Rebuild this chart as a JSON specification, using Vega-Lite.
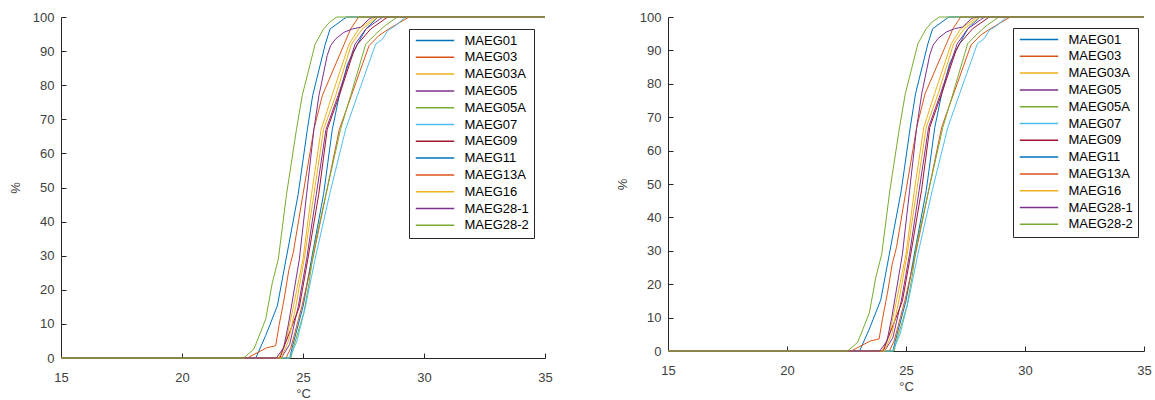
{
 "$schema": "https://vega.github.io/schema/vega-lite/v6.json",
 "padding": {"left": 9, "top": 11, "right": 5, "bottom": 0},
 "background": "white",
 "config": {
  "view": {"stroke": null},
  "font": "Liberation Sans",
  "concat": {"spacing": 63},
  "axis": {"domainColor": "#262626", "tickColor": "#262626", "tickSize": -5, "labelColor": "#404040", "labelFontSize": 13, "titleFontSize": 13, "titleFontWeight": "normal", "titleColor": "#404040", "grid": false, "labelFlush": false, "labelOverlap": false, "titlePadding": 10},
  "axisX": {"labelPadding": 18, "titlePadding": 3},
  "axisY": {"labelPadding": 12},
  "legend": {"strokeColor": "#262626", "fillColor": "white", "padding": 5, "symbolType": "M-4.8,0H4.8", "symbolSize": 64, "symbolOffset": 14.5, "symbolStrokeWidth": 1.5, "labelFontSize": 13, "labelColor": "#000000", "rowPadding": 2.8, "labelOffset": 23}
 },
 "datasets": {"curves": [
  {"s":"MAEG01","t":15,"p":0},{"s":"MAEG01","t":24.45,"p":0},{"s":"MAEG01","t":24.55,"p":3},{"s":"MAEG01","t":25.0,"p":15},{"s":"MAEG01","t":25.35,"p":29},{"s":"MAEG01","t":25.85,"p":48},{"s":"MAEG01","t":26.21,"p":67},{"s":"MAEG01","t":26.5,"p":77},{"s":"MAEG01","t":26.83,"p":86},{"s":"MAEG01","t":27.25,"p":92},{"s":"MAEG01","t":27.6,"p":96.5},{"s":"MAEG01","t":28.1,"p":100},{"s":"MAEG01","t":35,"p":100},
  {"s":"MAEG03","t":15,"p":0},{"s":"MAEG03","t":24.3,"p":0},{"s":"MAEG03","t":24.5,"p":3},{"s":"MAEG03","t":24.95,"p":15},{"s":"MAEG03","t":25.4,"p":29},{"s":"MAEG03","t":25.95,"p":48},{"s":"MAEG03","t":26.5,"p":67},{"s":"MAEG03","t":27.0,"p":77},{"s":"MAEG03","t":27.73,"p":91.6},{"s":"MAEG03","t":28.14,"p":94.6},{"s":"MAEG03","t":28.55,"p":96.5},{"s":"MAEG03","t":29.38,"p":100},{"s":"MAEG03","t":35,"p":100},
  {"s":"MAEG03A","t":15,"p":0},{"s":"MAEG03A","t":24.0,"p":0},{"s":"MAEG03A","t":24.3,"p":5},{"s":"MAEG03A","t":24.6,"p":15},{"s":"MAEG03A","t":25.0,"p":29},{"s":"MAEG03A","t":25.35,"p":48},{"s":"MAEG03A","t":25.75,"p":67},{"s":"MAEG03A","t":26.2,"p":77},{"s":"MAEG03A","t":26.9,"p":92},{"s":"MAEG03A","t":27.3,"p":96.5},{"s":"MAEG03A","t":28.0,"p":100},{"s":"MAEG03A","t":35,"p":100},
  {"s":"MAEG05","t":15,"p":0},{"s":"MAEG05","t":24.1,"p":0},{"s":"MAEG05","t":24.45,"p":4},{"s":"MAEG05","t":24.8,"p":15},{"s":"MAEG05","t":25.15,"p":29},{"s":"MAEG05","t":25.55,"p":48},{"s":"MAEG05","t":25.95,"p":67},{"s":"MAEG05","t":26.45,"p":77},{"s":"MAEG05","t":27.15,"p":92},{"s":"MAEG05","t":27.6,"p":96.5},{"s":"MAEG05","t":28.3,"p":100},{"s":"MAEG05","t":35,"p":100},
  {"s":"MAEG05A","t":15,"p":0},{"s":"MAEG05A","t":24.5,"p":0},{"s":"MAEG05A","t":24.6,"p":3},{"s":"MAEG05A","t":25.04,"p":13.4},{"s":"MAEG05A","t":25.25,"p":22},{"s":"MAEG05A","t":25.45,"p":32},{"s":"MAEG05A","t":25.95,"p":48},{"s":"MAEG05A","t":26.55,"p":67},{"s":"MAEG05A","t":26.97,"p":77},{"s":"MAEG05A","t":27.59,"p":92},{"s":"MAEG05A","t":28.0,"p":95},{"s":"MAEG05A","t":28.4,"p":97.5},{"s":"MAEG05A","t":28.9,"p":100},{"s":"MAEG05A","t":35,"p":100},
  {"s":"MAEG07","t":15,"p":0},{"s":"MAEG07","t":24.45,"p":0},{"s":"MAEG07","t":24.75,"p":5},{"s":"MAEG07","t":25.1,"p":15},{"s":"MAEG07","t":25.5,"p":29},{"s":"MAEG07","t":26.1,"p":48},{"s":"MAEG07","t":26.76,"p":67},{"s":"MAEG07","t":27.25,"p":77},{"s":"MAEG07","t":28.0,"p":92},{"s":"MAEG07","t":28.28,"p":93.5},{"s":"MAEG07","t":28.5,"p":96},{"s":"MAEG07","t":28.83,"p":97.5},{"s":"MAEG07","t":29.24,"p":100},{"s":"MAEG07","t":35,"p":100},
  {"s":"MAEG09","t":15,"p":0},{"s":"MAEG09","t":24.05,"p":0},{"s":"MAEG09","t":24.2,"p":3},{"s":"MAEG09","t":24.85,"p":15},{"s":"MAEG09","t":25.2,"p":29},{"s":"MAEG09","t":25.65,"p":48},{"s":"MAEG09","t":26.0,"p":67},{"s":"MAEG09","t":26.5,"p":77},{"s":"MAEG09","t":27.1,"p":90},{"s":"MAEG09","t":27.25,"p":92},{"s":"MAEG09","t":27.8,"p":96.5},{"s":"MAEG09","t":28.5,"p":100},{"s":"MAEG09","t":35,"p":100},
  {"s":"MAEG11","t":15,"p":0},{"s":"MAEG11","t":23.05,"p":0},{"s":"MAEG11","t":23.46,"p":6.6},{"s":"MAEG11","t":23.94,"p":15.3},{"s":"MAEG11","t":24.3,"p":29},{"s":"MAEG11","t":24.8,"p":48},{"s":"MAEG11","t":25.18,"p":67},{"s":"MAEG11","t":25.4,"p":77},{"s":"MAEG11","t":25.92,"p":92},{"s":"MAEG11","t":26.12,"p":96.5},{"s":"MAEG11","t":26.8,"p":100},{"s":"MAEG11","t":35,"p":100},
  {"s":"MAEG13A","t":15,"p":0},{"s":"MAEG13A","t":22.7,"p":0},{"s":"MAEG13A","t":23.5,"p":3},{"s":"MAEG13A","t":23.87,"p":3.6},{"s":"MAEG13A","t":24.01,"p":9.5},{"s":"MAEG13A","t":24.22,"p":17.3},{"s":"MAEG13A","t":24.42,"p":26},{"s":"MAEG13A","t":24.6,"p":31},{"s":"MAEG13A","t":25.0,"p":48},{"s":"MAEG13A","t":25.45,"p":67},{"s":"MAEG13A","t":25.8,"p":77},{"s":"MAEG13A","t":26.7,"p":92},{"s":"MAEG13A","t":26.97,"p":96.5},{"s":"MAEG13A","t":27.3,"p":100},{"s":"MAEG13A","t":35,"p":100},
  {"s":"MAEG16","t":15,"p":0},{"s":"MAEG16","t":24.1,"p":0},{"s":"MAEG16","t":24.4,"p":5},{"s":"MAEG16","t":24.7,"p":15},{"s":"MAEG16","t":25.05,"p":29},{"s":"MAEG16","t":25.45,"p":48},{"s":"MAEG16","t":25.85,"p":67},{"s":"MAEG16","t":26.35,"p":77},{"s":"MAEG16","t":27.0,"p":92},{"s":"MAEG16","t":27.45,"p":96.5},{"s":"MAEG16","t":28.1,"p":100},{"s":"MAEG16","t":35,"p":100},
  {"s":"MAEG28-1","t":15,"p":0},{"s":"MAEG28-1","t":23.9,"p":0},{"s":"MAEG28-1","t":24.2,"p":3},{"s":"MAEG28-1","t":24.4,"p":10},{"s":"MAEG28-1","t":24.85,"p":29},{"s":"MAEG28-1","t":25.15,"p":48},{"s":"MAEG28-1","t":25.45,"p":67},{"s":"MAEG28-1","t":25.66,"p":77},{"s":"MAEG28-1","t":26.0,"p":88.7},{"s":"MAEG28-1","t":26.14,"p":91.6},{"s":"MAEG28-1","t":26.35,"p":93.6},{"s":"MAEG28-1","t":26.69,"p":95.5},{"s":"MAEG28-1","t":27.04,"p":96.5},{"s":"MAEG28-1","t":27.38,"p":97},{"s":"MAEG28-1","t":27.73,"p":99.4},{"s":"MAEG28-1","t":27.9,"p":100},{"s":"MAEG28-1","t":35,"p":100},
  {"s":"MAEG28-2","t":15,"p":0},{"s":"MAEG28-2","t":22.55,"p":0},{"s":"MAEG28-2","t":22.97,"p":2.6},{"s":"MAEG28-2","t":23.46,"p":11.4},{"s":"MAEG28-2","t":23.73,"p":22},{"s":"MAEG28-2","t":23.98,"p":29},{"s":"MAEG28-2","t":24.32,"p":48},{"s":"MAEG28-2","t":24.73,"p":67},{"s":"MAEG28-2","t":24.97,"p":77},{"s":"MAEG28-2","t":25.5,"p":92},{"s":"MAEG28-2","t":25.85,"p":96.5},{"s":"MAEG28-2","t":26.1,"p":98.5},{"s":"MAEG28-2","t":26.4,"p":100},{"s":"MAEG28-2","t":35,"p":100}
 ]},
 "hconcat": [
  {
   "width": 484, "height": 341,
   "data": {"name": "curves"},
   "mark": {"type": "line", "strokeWidth": 1},
   "encoding": {
    "x": {"field": "t", "type": "quantitative", "scale": {"domain": [15, 35], "nice": false, "zero": false}, "axis": {"title": "°C", "values": [15, 20, 25, 30, 35]}},
    "y": {"field": "p", "type": "quantitative", "scale": {"domain": [0, 100], "nice": false}, "axis": {"title": "%", "values": [0, 10, 20, 30, 40, 50, 60, 70, 80, 90, 100]}},
    "color": {"field": "s", "type": "nominal",
     "scale": {"domain": ["MAEG01","MAEG03","MAEG03A","MAEG05","MAEG05A","MAEG07","MAEG09","MAEG11","MAEG13A","MAEG16","MAEG28-1","MAEG28-2"],
               "range": ["#0072BD","#D95319","#EDB120","#7E2F8E","#77AC30","#4DBEEE","#A2142F","#0072BD","#D95319","#EDB120","#7E2F8E","#77AC30"]},
     "legend": {"title": null, "orient": "none", "legendX": 348, "legendY": 12}}
   }
  },
  {
   "width": 476, "height": 334,
   "data": {"name": "curves"},
   "mark": {"type": "line", "strokeWidth": 1},
   "encoding": {
    "x": {"field": "t", "type": "quantitative", "scale": {"domain": [15, 35], "nice": false, "zero": false}, "axis": {"title": "°C", "values": [15, 20, 25, 30, 35]}},
    "y": {"field": "p", "type": "quantitative", "scale": {"domain": [0, 100], "nice": false}, "axis": {"title": "%", "values": [0, 10, 20, 30, 40, 50, 60, 70, 80, 90, 100]}},
    "color": {"field": "s", "type": "nominal",
     "scale": {"domain": ["MAEG01","MAEG03","MAEG03A","MAEG05","MAEG05A","MAEG07","MAEG09","MAEG11","MAEG13A","MAEG16","MAEG28-1","MAEG28-2"],
               "range": ["#0072BD","#D95319","#EDB120","#7E2F8E","#77AC30","#4DBEEE","#A2142F","#0072BD","#D95319","#EDB120","#7E2F8E","#77AC30"]},
     "legend": {"title": null, "orient": "none", "legendX": 345, "legendY": 11}}
   }
  }
 ],
 "resolve": {"scale": {"color": "independent"}, "legend": {"color": "independent"}}
}
